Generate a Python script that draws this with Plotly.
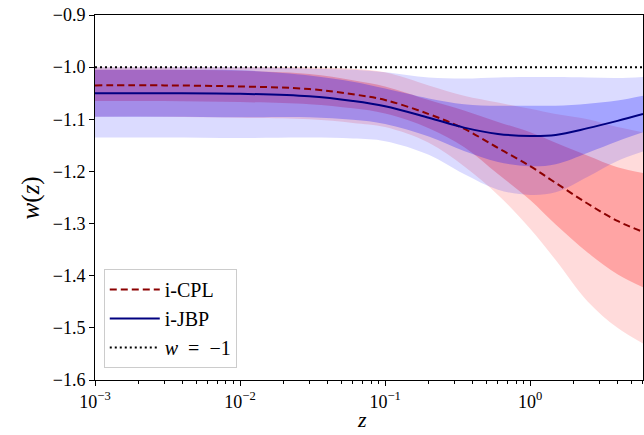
import plotly.graph_objects as go

# redshift sample points
z = [0.001, 0.003, 0.01, 0.03, 0.06, 0.1, 0.2, 0.35, 0.6, 1.0, 1.5, 2.5, 4.0, 6.0]

# i-CPL
cpl_mean = [-1.035, -1.035, -1.037, -1.042, -1.052, -1.063, -1.090, -1.118, -1.155, -1.190, -1.222, -1.262, -1.295, -1.316]
cpl_1s_lo = [-1.065, -1.065, -1.067, -1.071, -1.079, -1.089, -1.117, -1.153, -1.205, -1.255, -1.302, -1.356, -1.397, -1.422]
cpl_1s_hi = [-1.005, -1.005, -1.007, -1.013, -1.025, -1.037, -1.063, -1.083, -1.105, -1.125, -1.145, -1.170, -1.192, -1.203]
cpl_2s_lo = [-1.095, -1.095, -1.097, -1.100, -1.107, -1.115, -1.145, -1.190, -1.245, -1.310, -1.370, -1.450, -1.500, -1.530]
cpl_2s_hi = [-1.000, -1.000, -1.000, -1.000, -1.003, -1.010, -1.035, -1.055, -1.068, -1.080, -1.090, -1.100, -1.115, -1.125]

# i-JBP
jbp_mean = [-1.050, -1.050, -1.051, -1.056, -1.065, -1.075, -1.097, -1.116, -1.128, -1.132, -1.130, -1.117, -1.103, -1.090]
jbp_1s_lo = [-1.095, -1.095, -1.096, -1.096, -1.101, -1.109, -1.133, -1.161, -1.182, -1.190, -1.186, -1.164, -1.142, -1.125]
jbp_1s_hi = [-1.005, -1.005, -1.006, -1.016, -1.028, -1.041, -1.060, -1.071, -1.074, -1.074, -1.074, -1.070, -1.064, -1.055]
jbp_2s_lo = [-1.135, -1.135, -1.136, -1.135, -1.137, -1.142, -1.168, -1.205, -1.235, -1.245, -1.240, -1.210, -1.180, -1.162]
jbp_2s_hi = [-1.000, -1.000, -1.000, -1.003, -1.005, -1.010, -1.020, -1.022, -1.020, -1.019, -1.019, -1.020, -1.021, -1.019]

w_lcdm = [-1.0] * len(z)

y_ticks = [-1.6, -1.5, -1.4, -1.3, -1.2, -1.1, -1.0, -0.9]
y_ticktext = ["\u22121.6", "\u22121.5", "\u22121.4", "\u22121.3", "\u22121.2", "\u22121.1", "\u22121.0", "\u22120.9"]
x_ticks = [0.001, 0.01, 0.1, 1.0]
x_ticktext = ["10<sup>\u22123</sup>", "10<sup>\u22122</sup>", "10<sup>\u22121</sup>", "10<sup>0</sup>"]

FONT = "Liberation Serif, Times New Roman, serif"

fig = go.Figure()


def band(lo, hi, color):
    fig.add_trace(go.Scatter(x=z, y=lo, mode="lines", line=dict(width=0, shape="spline", smoothing=1.0),
                             showlegend=False, hoverinfo="skip"))
    fig.add_trace(go.Scatter(x=z, y=hi, mode="lines", line=dict(width=0, shape="spline", smoothing=1.0),
                             fill="tonexty", fillcolor=color, showlegend=False, hoverinfo="skip"))


band(cpl_2s_lo, cpl_2s_hi, "rgba(255,0,0,0.14)")
band(cpl_1s_lo, cpl_1s_hi, "rgba(255,0,0,0.25)")
band(jbp_2s_lo, jbp_2s_hi, "rgba(0,0,255,0.14)")
band(jbp_1s_lo, jbp_1s_hi, "rgba(0,0,255,0.25)")

fig.add_trace(go.Scatter(x=z, y=cpl_mean, mode="lines", name="i-CPL", legendgroup="a",
                         line=dict(color="#8b0000", width=2, dash="7px,4px", shape="spline", smoothing=1.0)))
fig.add_trace(go.Scatter(x=z, y=jbp_mean, mode="lines", name="i-JBP", legendgroup="b",
                         line=dict(color="#000080", width=2, shape="spline", smoothing=1.0)))
fig.add_trace(go.Scatter(x=z, y=w_lcdm, mode="lines", name="<i>w</i>\u2002=\u2002\u22121", legendgroup="c",
                         line=dict(color="black", width=2, dash="2px,3px")))

fig.update_layout(
    width=644, height=435,
    margin=dict(l=95, r=1, t=15, b=55, autoexpand=False),
    paper_bgcolor="white", plot_bgcolor="white",
    font=dict(family=FONT, size=16, color="black"),
    legend=dict(x=0.016, y=0.033, xanchor="left", yanchor="bottom",
                bgcolor="rgba(255,255,255,0.8)", bordercolor="#cccccc", borderwidth=1,
                font=dict(family=FONT, size=20), tracegroupgap=0, itemwidth=50),
    annotations=[
        dict(text="<i>z</i>", xref="paper", yref="paper", x=0.487, y=-0.108, xanchor="center", yanchor="middle",
             showarrow=False, font=dict(family=FONT, size=22)),
        dict(text="<i>w</i>(<i>z</i>)", xref="paper", yref="paper", x=-0.117, y=0.5, xanchor="center",
             yanchor="middle", textangle=-90, showarrow=False, font=dict(family=FONT, size=25)),
    ],
)
fig.update_xaxes(type="log", range=[-3, 0.7782], tickvals=x_ticks, ticktext=x_ticktext,
                 automargin=False,
                 showline=True, linecolor="black", linewidth=1, mirror=True,
                 ticks="outside", ticklen=5, tickcolor="black", showgrid=False, zeroline=False,
                 tickfont=dict(family=FONT, size=18),
                 minor=dict(ticks="outside", ticklen=3, tickcolor="black", dtick="D1", showgrid=False))
fig.update_yaxes(range=[-1.6, -0.9], tickvals=y_ticks, ticktext=y_ticktext,
                 automargin=False,
                 showline=True, linecolor="black", linewidth=1, mirror=True,
                 ticks="outside", ticklen=5, tickcolor="black", showgrid=False, zeroline=False,
                 tickfont=dict(family=FONT, size=18))

fig.write_html("out.html", config={"displayModeBar": False},
               post_script="document.body.style.margin='0px';")
